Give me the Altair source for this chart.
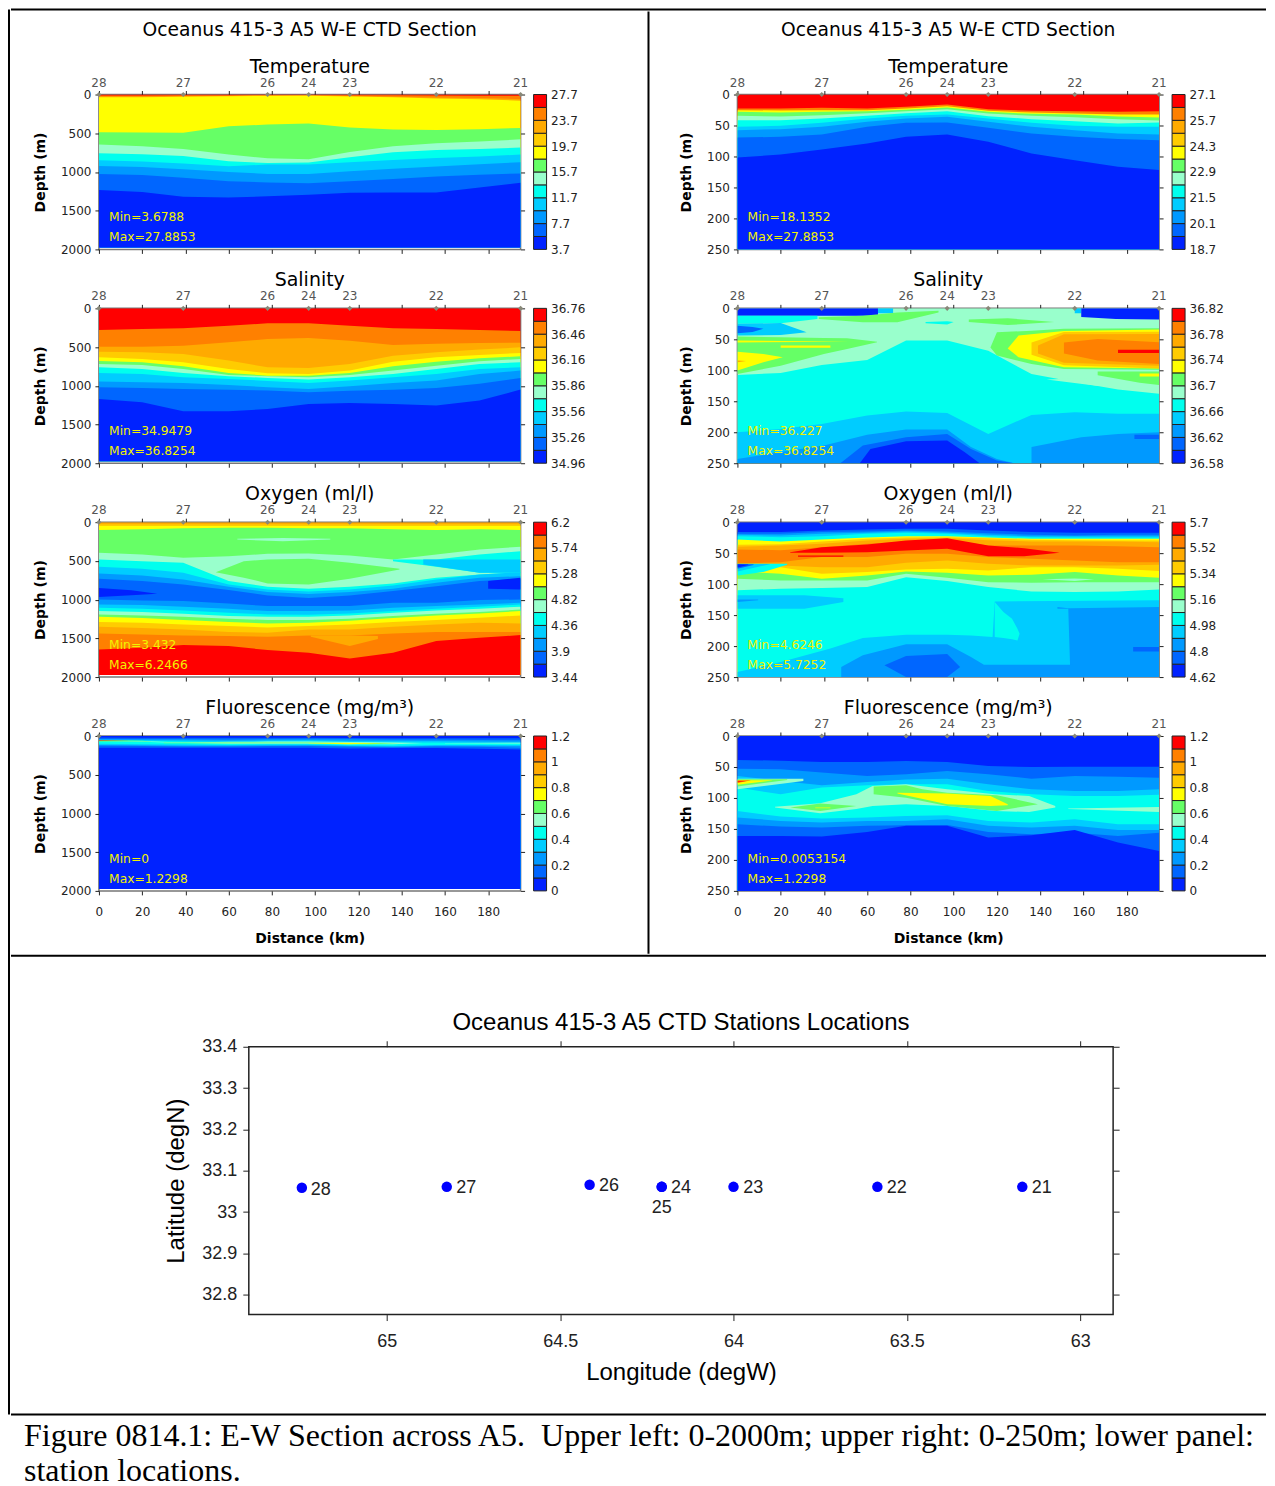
import altair as alt
import pandas as pd

PALETTE = ["#0022ff", "#0066ff", "#0099ff", "#00ccff", "#00ffee", "#99ffcc",
           "#66ff66", "#ffff00", "#ffcc00", "#ffaa00", "#ff8000", "#ff0000"]
X_KM = [0, 20, 39, 60, 78, 97, 116, 136, 156, 176, 195]
STATION_KM = [0, 39, 78, 97, 116, 156, 195]
STATION_ID = ["28", "27", "26", "24", "23", "22", "21"]
ZEROS = [0] * 11

# ---- each section: stack = (colour band, upper depth of band along X_KM), patches = (band, km, top, bottom)
TEMP_DEEP = [
    (11, ZEROS),
    (10, [12, 12, 10, 8, 5, 5, 8, 10, 12, 15, 15]),
    (9, [25, 25, 22, 18, 12, 12, 20, 28, 40, 45, 60]),
    (7, [35, 35, 30, 22, 18, 15, 25, 35, 50, 60, 80]),
    (6, [487, 491, 495, 409, 388, 375, 427, 453, 457, 448, 431]),
    (5, [646, 668, 703, 776, 823, 836, 741, 668, 629, 608, 578]),
    (4, [759, 771, 793, 862, 884, 879, 810, 746, 715, 702, 685]),
    (3, [849, 866, 892, 925, 905, 905, 875, 845, 820, 800, 776]),
    (2, [922, 935, 965, 1000, 1026, 1026, 990, 960, 930, 900, 875]),
    (1, [1026, 1040, 1075, 1120, 1135, 1145, 1120, 1090, 1060, 1035, 1020]),
    (0, [1233, 1260, 1320, 1330, 1315, 1295, 1270, 1265, 1265, 1200, 1140]),
]
SAL_DEEP = [
    (11, ZEROS),
    (10, [280, 267, 258, 224, 194, 194, 224, 258, 267, 280, 292]),
    (9, [495, 495, 482, 439, 396, 383, 417, 473, 456, 447, 443]),
    (8, [559, 568, 589, 675, 761, 770, 718, 611, 568, 533, 503]),
    (7, [632, 654, 697, 783, 838, 847, 804, 688, 632, 602, 576]),
    (6, [679, 697, 748, 834, 869, 869, 834, 748, 688, 645, 619]),
    (5, [718, 731, 783, 860, 877, 890, 860, 804, 740, 684, 654]),
    (4, [761, 783, 834, 877, 899, 920, 890, 847, 783, 718, 697]),
    (3, [834, 847, 890, 912, 937, 963, 933, 890, 847, 783, 761]),
    (2, [946, 955, 963, 989, 1019, 1041, 1006, 963, 933, 847, 804]),
    (1, [1020, 1030, 1040, 1050, 1060, 1085, 1065, 1050, 1030, 975, 900]),
    (0, [1170, 1213, 1329, 1329, 1299, 1234, 1221, 1234, 1256, 1191, 1049]),
]
OXY_DEEP = [
    (9, ZEROS),
    (8, [26] * 11),
    (7, [50] * 11),
    (6, [100, 90, 78, 73, 73, 78, 78, 90, 100, 90, 100]),
    (5, [396, 417, 460, 439, 409, 404, 430, 482, 417, 352, 318]),
    (4, [482, 503, 525, 761, 834, 860, 834, 791, 718, 675, 645]),
    (3, [576, 602, 654, 804, 869, 894, 869, 817, 740, 675, 645]),
    (2, [662, 688, 740, 834, 903, 929, 903, 860, 783, 718, 697]),
    (1, [731, 761, 804, 877, 946, 980, 946, 890, 826, 761, 731]),
    (2, [998, 1010, 1019, 1049, 1084, 1084, 1084, 1041, 1041, 1006, 998]),
    (3, [1062, 1071, 1092, 1118, 1148, 1148, 1140, 1105, 1084, 1062, 1041]),
    (4, [1105, 1118, 1140, 1170, 1191, 1195, 1178, 1148, 1118, 1092, 1062]),
    (5, [1148, 1161, 1183, 1213, 1221, 1221, 1204, 1170, 1140, 1118, 1092]),
    (6, [1191, 1204, 1221, 1247, 1264, 1264, 1247, 1213, 1183, 1161, 1127]),
    (7, [1221, 1238, 1264, 1290, 1307, 1299, 1273, 1238, 1204, 1178, 1148]),
    (8, [1290, 1299, 1320, 1342, 1359, 1342, 1320, 1290, 1264, 1234, 1204]),
    (9, [1350, 1367, 1385, 1419, 1428, 1385, 1385, 1350, 1320, 1299, 1307]),
    (10, [1436, 1449, 1462, 1471, 1479, 1462, 1462, 1436, 1419, 1419, 1419]),
    (11, [1643, 1621, 1587, 1600, 1651, 1686, 1759, 1686, 1535, 1492, 1458]),
]
OXY_DEEP_PATCHES = [
    (5, [64, 85, 107], [215, 205, 215], [225, 245, 225]),
    (6, [54, 67, 78, 97, 116, 139], [645, 503, 482, 473, 525, 602], [645, 716, 791, 804, 731, 611]),
    (4, [136, 156, 176, 195], [482, 482, 417, 374], [503, 576, 654, 654]),
    (3, [150, 176, 195], [482, 482, 482], [546, 654, 654]),
    (0, [0, 15, 27], [850, 880, 925], [965, 945, 925]),
    (0, [180, 195], [760, 718], [860, 870]),
    (9, [98, 116, 129], [1462, 1462, 1471], [1479, 1600, 1510]),
]
FLUO_DEEP = [
    (0, ZEROS),
    (1, [20, 22, 22, 22, 22, 22, 25, 28, 28, 30, 30]),
    (2, [40, 38, 40, 45, 40, 35, 40, 45, 45, 50, 55]),
    (3, [48, 50, 55, 60, 55, 50, 60, 62, 65, 70, 75]),
    (4, [58, 62, 72, 78, 72, 70, 78, 85, 85, 90, 90]),
    (3, [100, 105, 110, 115, 110, 110, 118, 125, 115, 115, 115]),
    (2, [115, 120, 125, 125, 122, 120, 130, 135, 125, 125, 130]),
    (1, [125, 130, 135, 135, 130, 130, 140, 145, 135, 140, 150]),
    (0, [150, 150, 150, 150, 150, 150, 160, 155, 155, 165, 175]),
]
FLUO_DEEP_PATCHES = [
    (5, [0, 20, 40, 60, 78, 97, 116, 136, 150], [70, 68, 85, 75, 72, 70, 78, 85, 90], [70, 75, 90, 100, 100, 100, 108, 105, 90]),
    (6, [0, 20, 25], [52, 60, 70], [70, 68, 70]),
    (6, [30, 60, 97, 125, 140], [88, 85, 85, 90, 95], [92, 92, 95, 105, 95]),
    (7, [97, 115, 130], [90, 90, 95], [92, 105, 96]),
    (11, [0, 14], [50, 55], [58, 56]),
    (5, [160, 195], [90, 88], [95, 98]),
]
TEMP_SHALLOW = [
    (11, ZEROS),
    (10, [22.6, 22.6, 21.5, 22.6, 19.9, 16.1, 23.7, 26.3, 26.9, 28, 26.9]),
    (7, [25.3, 25.8, 25.3, 25.3, 22.6, 18.8, 26.3, 29, 30.6, 32.3, 32.3]),
    (6, [28, 29, 28, 26.9, 24.7, 21, 28, 31.2, 32.3, 35.5, 37.1]),
    (5, [34.4, 35.5, 33.3, 30.1, 26.9, 23.7, 30.6, 34.4, 36.6, 39.8, 41.9]),
    (4, [41.4, 41.4, 38.7, 34.4, 30.1, 26.9, 34.9, 39.8, 43, 46.8, 45.2]),
    (3, [52, 50.6, 45.7, 38.7, 34.4, 32.3, 38.7, 45.7, 50.6, 52, 52]),
    (2, [57.5, 55.9, 52, 44, 38.7, 36, 44, 52, 57.5, 62.9, 64.5]),
    (1, [69.4, 68.3, 64.5, 52, 45.7, 45.2, 53.8, 62.9, 68.3, 72, 73.7]),
    (0, [101.6, 96.8, 88.7, 79, 68.3, 64.5, 76.4, 95.2, 106, 116.7, 122]),
]
SAL_SHALLOW = [
    (5, ZEROS),
    (4, [107.5, 104.3, 91.4, 83.3, 52, 52, 68.3, 106, 119, 131, 138]),
]
SAL_SHALLOW_PATCHES = [
    (3, [65, 72], [0, 0], [8, 8]),
    (0, [0, 65], [0, 0], [12, 12]),
    (3, [156, 159], [0, 0], [8, 8]),
    (0, [159, 175, 195], [0, 0, 0], [14, 17, 18]),
    (4, [0, 20, 37], [12, 12, 12], [25, 24, 17]),
    (3, [0, 20, 32], [25, 23.7, 38.7], [44, 43, 38.7]),
    (1, [0, 7, 12], [28, 30, 33], [40, 38, 33]),
    (6, [37.6, 58, 74, 93], [14.5, 11.8, 6.5, 3.8], [17, 22.6, 22.6, 6.5]),
    (6, [107, 125, 146.5], [18, 16, 22], [22, 27, 22]),
    (4, [87, 97, 100], [22, 21, 22], [24, 26, 22]),
    (6, [0, 20, 40, 50.7, 64.6], [45.5, 46.8, 48, 48.4, 54], [106, 92.5, 73.7, 65.6, 54.8]),
    (7, [0, 51.5], [52, 54], [55, 54]),
    (7, [20, 43], [60, 60], [63.4, 63.4]),
    (7, [0, 12, 21], [70, 73.7, 79], [100.5, 87, 79]),
    (9, [0, 4], [84, 85], [87, 85]),
    (6, [117, 120, 136, 151, 195], [63, 38.7, 36, 33, 32], [63, 76, 90, 98, 99]),
    (7, [125, 130, 151, 195], [65, 44, 36.6, 34], [65, 79, 95, 97]),
    (8, [136, 151, 195], [55, 38, 37.6], [75, 92, 97]),
    (9, [139, 151, 195], [60, 42, 41.4], [73, 88, 92.5]),
    (10, [151, 166.6, 195], [55, 49.5, 54.8], [73, 84, 90]),
    (11, [176, 195], [67, 67], [72, 72]),
    (5, [143, 166, 195], [115, 112, 108], [115, 125, 131]),
    (6, [166.6, 186, 195], [102, 102, 102], [108, 120, 123.6]),
    (7, [186, 195], [105, 105], [110, 110]),
    (3, X_KM, [200, 194.6, 186.5, 173, 166.7, 169, 202.7, 172, 167.7, 170, 170], [250] * 11),
    (2, [0, 20, 40, 60, 78, 97, 108, 120, 128], [243, 232, 221.5, 204, 195.7, 195.7, 224, 243, 250], [250] * 9),
    (2, [136, 159, 176, 195], [224, 208, 202.7, 200], [250] * 4),
    (1, [47.6, 58, 78, 97, 108, 120, 128], [250, 221.5, 208, 202.7, 227, 245.7, 250], [250] * 7),
    (0, [56.6, 61.5, 78, 97, 105, 112], [250, 227, 214.5, 213.4, 232, 250], [250] * 6),
    (1, [183.6, 195], [204, 204], [210.7, 210.7]),
]
OXY_SHALLOW = [
    (0, ZEROS),
    (1, [16, 16, 13.4, 11.8, 10.8, 10.8, 13.4, 16, 17.2, 17.2, 17.2]),
    (2, [18.8, 18.8, 16, 15, 13.4, 15, 17.7, 20.4, 21.5, 20.4, 20.4]),
    (3, [20.4, 21.5, 18.8, 17.2, 15, 17.2, 20.4, 22.6, 22.6, 22.6, 22.6]),
    (4, [22.6, 24.2, 22.6, 18.8, 17.2, 18.8, 22.6, 24.2, 24.7, 24.7, 24.7]),
    (7, [28, 31.2, 28, 24.7, 22.6, 22.6, 24.7, 26.9, 26.9, 26.9, 26.9]),
    (8, [36.6, 35.5, 31.2, 26.9, 24.7, 24.2, 25.8, 28.5, 29, 29.6, 29.6]),
    (9, [39.8, 37.6, 35, 29.6, 26.9, 25.8, 29, 31.2, 31.2, 31.2, 32.3]),
    (10, [44, 45.2, 40.3, 35, 31.2, 28, 37.6, 37.6, 37.6, 38.7, 40.3]),
    (9, [67.2, 64.5, 56.4, 56.4, 51, 51, 56.4, 59, 61.8, 64.5, 64.5]),
    (8, [70, 70, 72.6, 72.6, 65.6, 61.8, 67.2, 70, 70, 70, 68.8]),
    (7, [71, 72.6, 83.3, 80.6, 76.3, 75, 78, 72.6, 72.6, 75, 79]),
    (6, [79.6, 83.3, 91.4, 86, 79.6, 81.7, 86, 85, 80.6, 86, 89.8]),
    (5, [91.4, 94, 94, 94, 83.3, 89.8, 96.8, 97.8, 96.8, 96.8, 96.8]),
    (4, [110, 107.5, 106.4, 104.8, 88.7, 95, 104.8, 111.8, 112.9, 111.8, 108.6]),
]
OXY_SHALLOW_PATCHES = [
    (11, [24.4, 39, 60, 78, 97, 116, 132.6, 149], [48.4, 40.3, 36, 29.6, 25.8, 37.6, 42, 49.5], [49.5, 49.5, 48.4, 45.7, 43, 54.8, 54.8, 49.5]),
    (11, [28, 49], [53.8, 53.8], [55.9, 55.9]),
    (4, [0, 12, 23], [67.2, 67.2, 67.2], [86, 80.6, 68.8]),
    (3, [0, 15], [67.6, 67.6], [79.6, 68]),
    (1, [0, 7.4], [68, 68], [75, 69]),
    (0, [0, 5], [68, 68.3], [73, 69]),
    (5, [141, 156, 165], [92, 91, 92], [92, 95, 92]),
    (3, [0, 31, 49], [118, 118, 122.6], [139.8, 139.8, 129]),
    (2, [0, 9.6], [125, 125], [129, 126]),
    (3, [0, 20, 43, 58, 78, 97, 108, 118, 119, 195], [242, 225.8, 204, 187, 181.7, 181.7, 182.8, 185.5, 128, 126], [250] * 10),
    (4, [119, 123, 127, 129.5, 130.5], [129, 145, 156, 172, 180], [185.5, 187, 189, 191, 180]),
    (2, [148, 153, 154, 195], [137, 139, 139, 137], [139.8, 139.8, 250, 250]),
    (2, [48, 58, 78, 97, 108, 114, 155], [233.8, 215, 197, 197, 217.7, 230, 230], [250] * 7),
    (1, [68, 78, 97, 103], [231, 216, 212.9, 233.8], [231, 250, 250, 233.8]),
    (1, [183, 195], [201.6, 201.6], [208.6, 208.6]),
]
FLUO_SHALLOW = [
    (0, ZEROS),
    (1, [38.7, 39.8, 42, 42, 40.3, 42, 48.4, 50, 49.5, 49.5, 49.5]),
    (2, [52.7, 53.8, 59, 64.5, 61.8, 56.4, 61.8, 68.8, 64.5, 65.6, 67.2]),
    (3, [64.5, 72.6, 79.6, 74.2, 70, 68.8, 78, 86, 88.7, 88.7, 86]),
    (4, [83.3, 94, 83.3, 79.6, 78, 78, 88.7, 94, 96.8, 96.8, 95]),
    (3, [121, 130, 133.3, 131.7, 129, 128, 137, 139.8, 134.4, 142.5, 142.5]),
    (2, [131.7, 137, 139.8, 137, 137, 134.4, 145, 147.8, 145, 151.6, 151.6]),
    (1, [142.5, 146.2, 147.8, 145, 144, 143.5, 154.8, 158.6, 156, 161.3, 156]),
    (0, [161.3, 161.3, 162.4, 154.8, 145, 145, 164, 160.2, 151.6, 172, 185.5]),
]
FLUO_SHALLOW_PATCHES = [
    (5, [0, 30.5], [68.8, 68.8], [86, 72.6]),
    (6, [0, 23], [69.9, 69.9], [81.7, 71]),
    (7, [0, 16], [71.5, 71.5], [78.5, 72]),
    (10, [0, 6], [71.5, 71.5], [76, 72]),
    (11, [0, 4], [73, 73.5], [74.5, 73.5]),
    (5, [17.4, 38.3, 55, 62.5, 78, 97, 119, 134.9, 147], [114, 108.6, 94, 80.6, 78, 86, 94, 96.8, 112.9], [115.6, 124.7, 118, 112.9, 110, 112.9, 121, 122.6, 115.6]),
    (6, [24.4, 38.3, 55], [115.6, 109, 112.9], [115.6, 121, 112.9]),
    (6, [63, 78, 85.5, 97, 120, 139], [81.7, 79.6, 86, 91.4, 95.7, 110], [94, 99.5, 104.8, 112.9, 121, 110]),
    (7, [74, 97, 117, 125], [91.4, 93, 96.8, 110], [93, 110, 112.9, 111.8]),
    (7, [36, 43], [115.5, 115.5], [116.5, 116.5]),
    (5, [153, 195], [117, 114.5], [118, 122.6]),
]

# ---- colour-bar labels and Min/Max notes
LEVELS = {
    "tl": [27.7, 23.7, 19.7, 15.7, 11.7, 7.7, 3.7],
    "sl": [36.76, 36.46, 36.16, 35.86, 35.56, 35.26, 34.96],
    "ol": [6.2, 5.74, 5.28, 4.82, 4.36, 3.9, 3.44],
    "fl": [1.2, 1, 0.8, 0.6, 0.4, 0.2, 0],
    "tr": [27.1, 25.7, 24.3, 22.9, 21.5, 20.1, 18.7],
    "sr": [36.82, 36.78, 36.74, 36.7, 36.66, 36.62, 36.58],
    "or": [5.7, 5.52, 5.34, 5.16, 4.98, 4.8, 4.62],
    "fr": [1.2, 1, 0.8, 0.6, 0.4, 0.2, 0],
}
NOTES = {
    "tl": ["Min=3.6788", "Max=27.8853"], "sl": ["Min=34.9479", "Max=36.8254"],
    "ol": ["Min=3.432", "Max=6.2466"], "fl": ["Min=0", "Max=1.2298"],
    "tr": ["Min=18.1352", "Max=27.8853"], "sr": ["Min=36.227", "Max=36.8254"],
    "or": ["Min=4.6246", "Max=5.7252"], "fr": ["Min=0.0053154", "Max=1.2298"],
}
ROW_TITLES = ["Temperature", "Salinity", "Oxygen (ml/l)", "Fluorescence (mg/m³)"]
MAIN_TITLE = "Oceanus 415-3 A5 W-E CTD Section"
CAPTION = ["Figure 0814.1: E-W Section across A5.\u00a0\u00a0Upper left: 0-2000m; upper right: 0-250m; lower panel:",
           "station locations."]

MAP_LON = [65.245, 64.827, 64.415, 64.207, 64.207, 64.0, 63.585, 63.167]
MAP_LAT = [33.059, 33.061, 33.066, 33.061, 33.061, 33.061, 33.061, 33.061]
MAP_LABEL = ["28", "27", "26", "24", "25", "23", "22", "21"]
LABEL_LON = [65.219, 64.80, 64.388, 64.18, 64.236, 63.972, 63.558, 63.14]
LABEL_LAT = [33.054, 33.058, 33.063, 33.058, 33.011, 33.058, 33.058, 33.058]

FONT = "DejaVu Sans"
PW, PH, BAR_W = 422, 155, 13
GRID = "#777777"


def section(stack, patches, depth_max, fill_bottom, key, title, last):
    rows = []
    pid = 0
    for band, tops in stack:
        for km, t in zip(X_KM, tops):
            rows.append(dict(km=km, top=t, bot=fill_bottom, band=band, patch=pid))
        pid += 1
    for band, kms, tops, bots in patches:
        for km, t, b in zip(kms, tops, bots):
            rows.append(dict(km=km, top=min(t, fill_bottom), bot=min(b, fill_bottom), band=band, patch=pid))
        pid += 1
    df = pd.DataFrame(rows)
    xs = alt.Scale(domain=[0, 195], nice=False, zero=False)
    ys = alt.Scale(domain=[depth_max, 0], nice=False, zero=False)
    yt = [depth_max * i / 4 for i in range(5)] if depth_max == 2000 else [0, 50, 100, 150, 200, 250]
    ticks_20 = list(range(0, 181, 20))
    x_bottom = alt.Axis(values=ticks_20, labels=last, title="Distance (km)" if last else None, tickSize=4, grid=False,
                        domain=False, tickColor="#222", labelFont=FONT, labelFontSize=12, labelColor="#222",
                        labelPadding=12, titleFont=FONT, titleFontSize=14, titleFontWeight="bold", titlePadding=14,
                        labelFlush=False)
    y_left = alt.Axis(values=yt, title="Depth (m)", tickSize=4, grid=False, domain=False, tickColor="#222",
                      labelFont=FONT, labelFontSize=12, labelColor="#222", labelPadding=4, format="d",
                      titleFont=FONT, titleFontSize=14, titleFontWeight="bold", titlePadding=13)
    area = alt.Chart(df).mark_area(interpolate="linear", clip=True).encode(
        x=alt.X("km:Q", scale=xs, axis=x_bottom),
        y=alt.Y("top:Q", scale=ys, axis=y_left, stack=None),
        y2="bot:Q",
        color=alt.Color("band:O", scale=alt.Scale(domain=list(range(12)), range=PALETTE), legend=None),
        detail="patch:N",
    )
    st = pd.DataFrame(dict(km=STATION_KM, label=STATION_ID, d=[0] * 7))
    x_top = alt.Axis(orient="top", values=ticks_20, labels=False, title=None, tickSize=4, grid=False, domain=False,
                     tickColor="#222")
    y_right = alt.Axis(orient="right", values=yt, labels=False, title=None, tickSize=4, grid=False, domain=False,
                       tickColor="#222")
    pts = alt.Chart(st).mark_point(shape="diamond", filled=True, size=26, color="#888878", opacity=1).encode(
        x=alt.X("km:Q", scale=xs, axis=x_top), y=alt.Y("d:Q", scale=ys, axis=y_right))
    labs = alt.Chart(st).mark_text(baseline="bottom", dy=-5, font=FONT, fontSize=12, color="#555555").encode(
        x=alt.X("km:Q", scale=xs, axis=None), y=alt.Y("d:Q", scale=ys, axis=None), text="label:N")
    note_df = pd.DataFrame(dict(km=[4.7, 4.7], d=[depth_max * 0.793, depth_max * 0.922], t=NOTES[key]))
    notes = alt.Chart(note_df).mark_text(align="left", font=FONT, fontSize=12.3, color="#f2f200").encode(
        x=alt.X("km:Q", scale=xs, axis=None), y=alt.Y("d:Q", scale=ys, axis=None), text="t:N")
    return alt.layer(area, pts, labs, notes).resolve_axis(x="independent", y="independent").properties(
        width=PW, height=PH, title=title, view=alt.ViewBackground(stroke=GRID, strokeWidth=1.5))


def colorbar(levels):
    hi, lo = levels[0], levels[-1]
    n = len(PALETTE)
    df = pd.DataFrame(dict(
        a=[lo + (hi - lo) * i / n for i in range(n)],
        b=[lo + (hi - lo) * (i + 1) / n for i in range(n)],
        band=list(range(n))))
    return alt.Chart(df).mark_rect(stroke="#222222", strokeWidth=1).encode(
        x=alt.value(0), x2=alt.value(BAR_W),
        y=alt.Y("a:Q", scale=alt.Scale(domain=[lo, hi], nice=False, zero=False),
                axis=alt.Axis(orient="right", values=levels, labelExpr="'' + datum.value", title=None, ticks=False,
                              domain=False, grid=False, labelFont=FONT, labelFontSize=12, labelColor="#222",
                              labelPadding=4)),
        y2="b:Q",
        color=alt.Color("band:O", scale=alt.Scale(domain=list(range(12)), range=PALETTE), legend=None),
    ).properties(width=BAR_W, height=PH)


def row_title(i):
    if i == 0:
        return alt.TitleParams(MAIN_TITLE, subtitle=ROW_TITLES[0], font=FONT, fontSize=18.7, fontWeight="normal",
                               subtitleFont=FONT, subtitleFontSize=19, subtitleColor="#000", subtitlePadding=18,
                               offset=0, color="#000")
    return alt.TitleParams(ROW_TITLES[i], font=FONT, fontSize=19, fontWeight="normal", offset=0, color="#000")


def column(specs, depth_max, fill_bottom, keys):
    charts = []
    for i, (stack, patches) in enumerate(specs):
        charts.append(section(stack, patches, depth_max, fill_bottom, keys[i], row_title(i), i == 3))
        charts.append(colorbar(LEVELS[keys[i]]))
    return alt.concat(*charts, columns=2, spacing={"row": 59, "column": 13}, bounds="flush")


def spacer(w=1, h=1):
    return alt.Chart(pd.DataFrame(dict(v=[0]))).mark_rule(opacity=0).encode(x=alt.value(0)).properties(width=w, height=h)


def hline(w, title=None):
    c = alt.Chart(pd.DataFrame(dict(v=[0]))).mark_rule(color="#000", strokeWidth=2).encode(
        x=alt.value(0), x2=alt.value(w), y=alt.value(0))
    props = dict(width=w, height=1)
    if title is not None:
        props["title"] = title
    return c.properties(**props)


def vline(h):
    return alt.Chart(pd.DataFrame(dict(v=[0]))).mark_rule(color="#000", strokeWidth=2).encode(
        x=alt.value(0), y=alt.value(0), y2=alt.value(h)).properties(width=1, height=h)


left = column([(TEMP_DEEP, []), (SAL_DEEP, []), (OXY_DEEP, OXY_DEEP_PATCHES), (FLUO_DEEP, FLUO_DEEP_PATCHES)],
              2000, 1975, ["tl", "sl", "ol", "fl"])
right = column([(TEMP_SHALLOW, []), (SAL_SHALLOW, SAL_SHALLOW_PATCHES), (OXY_SHALLOW, OXY_SHALLOW_PATCHES),
                (FLUO_SHALLOW, FLUO_SHALLOW_PATCHES)], 250, 250, ["tr", "sr", "or", "fr"])

# ---- station map
MF = "Liberation Sans"
mx = alt.Scale(domain=[65.398, 62.905], nice=False, zero=False)
my = alt.Scale(domain=[32.752, 33.4], nice=False, zero=False)
map_df = pd.DataFrame(dict(lon=MAP_LON, lat=MAP_LAT))
lab_df = pd.DataFrame(dict(lon=LABEL_LON, lat=LABEL_LAT, t=MAP_LABEL))
lon_vals = [65, 64.5, 64, 63.5, 63]
lat_vals = [33.4, 33.3, 33.2, 33.1, 33, 32.9, 32.8]
pts_map = alt.Chart(map_df).mark_point(filled=True, size=110, color="#0000ff", opacity=1).encode(
    x=alt.X("lon:Q", scale=mx, axis=alt.Axis(values=lon_vals, title="Longitude (degW)", grid=False, domain=False,
                                             tickSize=6, tickColor="#222", labelFont=MF, labelFontSize=18,
                                             labelColor="#222", labelPadding=12, labelExpr="'' + datum.value",
                                             titleFont=MF, titleFontSize=24, titleFontWeight="normal", titlePadding=10)),
    y=alt.Y("lat:Q", scale=my, axis=alt.Axis(values=lat_vals, title="Latitude (degN)", grid=False, domain=False,
                                             tickSize=6, tickColor="#222", labelFont=MF, labelFontSize=18,
                                             labelColor="#222", labelPadding=6, labelExpr="'' + datum.value",
                                             titleFont=MF, titleFontSize=24, titleFontWeight="normal", titlePadding=13)))
tx_map = alt.Chart(lab_df).mark_text(align="left", font=MF, fontSize=18, color="#222").encode(
    x=alt.X("lon:Q", scale=mx, axis=alt.Axis(orient="top", values=lon_vals, labels=False, title=None, grid=False,
                                             domain=False, tickSize=6, tickColor="#222")),
    y=alt.Y("lat:Q", scale=my, axis=alt.Axis(orient="right", values=lat_vals, labels=False, title=None, grid=False,
                                             domain=False, tickSize=6, tickColor="#222")),
    text="t:N")
station_map = alt.layer(pts_map, tx_map).resolve_axis(x="independent", y="independent").properties(
    width=865, height=268,
    title=alt.TitleParams("Oceanus 415-3 A5 CTD Stations Locations", font=MF, fontSize=24, fontWeight="normal",
                          color="#000", offset=3),
    view=alt.ViewBackground(stroke="#222", strokeWidth=1.5))

caption = alt.TitleParams(CAPTION, orient="bottom", anchor="start", font="Liberation Serif", fontSize=32,
                          fontWeight="normal", color="#000", lineHeight=35, offset=6, dx=14)

top_row = alt.hconcat(spacer(21), alt.vconcat(spacer(1, 8), left, spacing=0), spacer(62), vline(943), spacer(29),
                      alt.vconcat(spacer(1, 8), right, spacing=0), spacing=0)
bottom_row = alt.vconcat(spacer(1, 53), alt.hconcat(spacer(153), station_map, spacing=0), spacer(1, 28), spacing=0)
main = alt.vconcat(hline(1256), top_row, hline(1256), bottom_row, hline(1256, caption), spacing=0)
chart = alt.hconcat(vline(1406), main, spacing=0).properties(
    padding={"left": 0, "top": 0, "right": 0, "bottom": 0},
).configure_view(stroke=None).configure_concat(spacing=0)

chart.save("out.html", embed_options={"renderer": "svg", "actions": False})
